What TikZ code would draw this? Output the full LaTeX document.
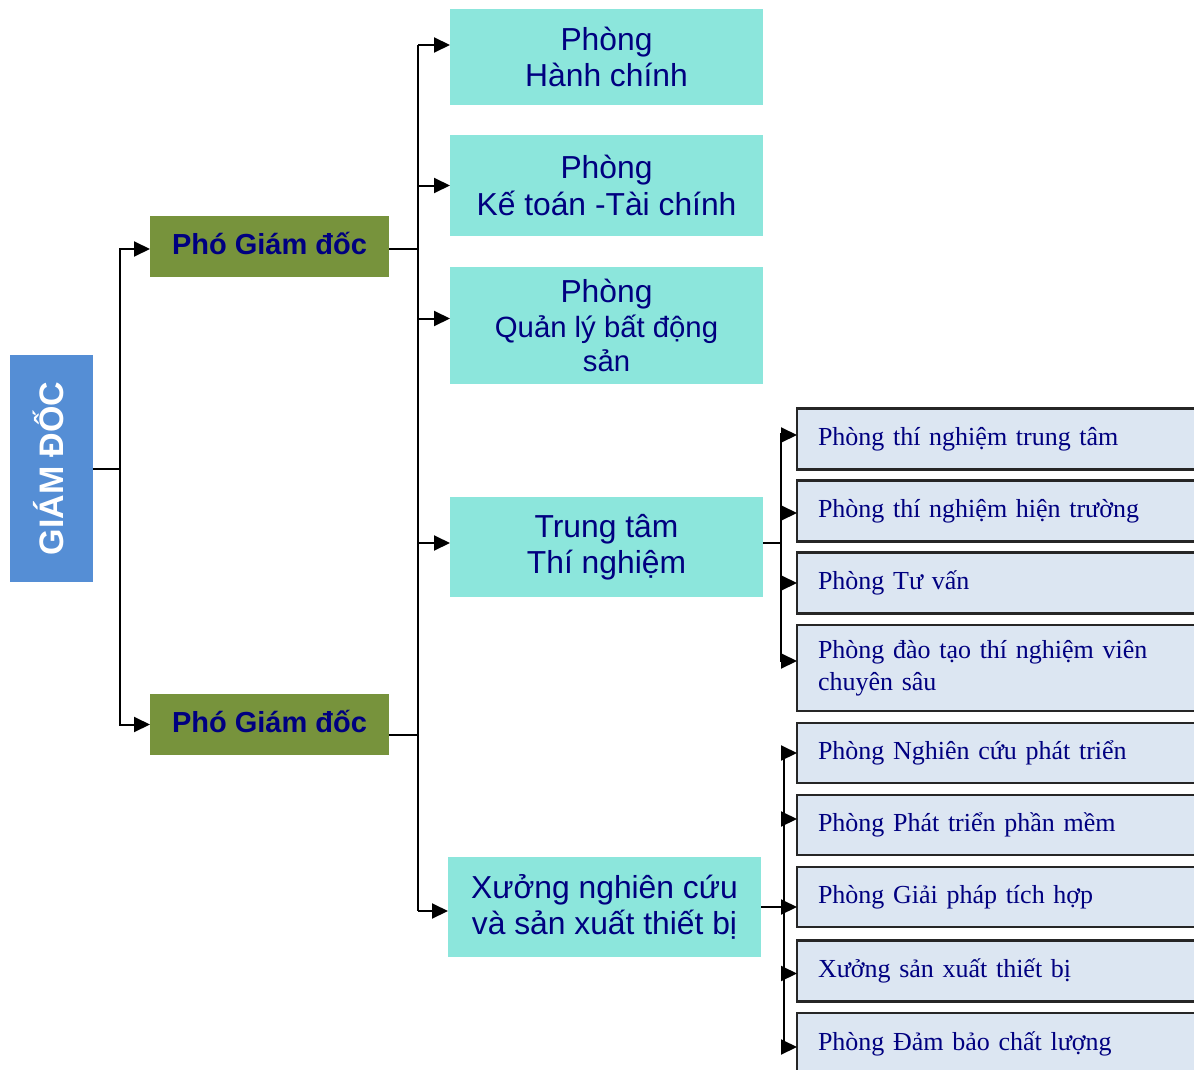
\documentclass[tikz,border=0pt]{standalone}
\usepackage{fontspec}
\setmainfont{Liberation Sans}
\newfontfamily\tnr{Liberation Serif}
\usetikzlibrary{arrows.meta}
\definecolor{gdblue}{HTML}{558ED5}
\definecolor{olivebox}{HTML}{77933C}
\definecolor{cyanbox}{HTML}{8CE6DC}
\definecolor{navytext}{HTML}{000080}
\definecolor{lightbox}{HTML}{DCE6F2}
\definecolor{boxborder}{HTML}{262626}
\begin{document}
\begin{tikzpicture}[x=1pt,y=-1pt,
  ln/.style={line width=2pt, draw=black},
  arr/.style={ln, -{Triangle[length=16pt, width=15pt]}},
  gdbox/.style={fill=gdblue, minimum width=83pt, minimum height=227pt, inner sep=0pt, outer sep=0pt},
  pgdbox/.style={fill=olivebox, minimum width=239pt, minimum height=61pt, text=navytext,
    text depth=6pt, font=\bfseries\fontsize{29}{33}\selectfont, inner sep=0pt, outer sep=0pt, anchor=north west},
  cbox/.style={fill=cyanbox, text=navytext, minimum width=313pt, align=center,
    font=\fontsize{31.8}{36.5}\selectfont, inner sep=0pt, outer sep=0pt, anchor=north west},
  rbox/.style={fill=lightbox, draw=boxborder, line width=2.5pt, text=navytext, minimum width=420pt,
    text width=380pt, align=left, inner xsep=21pt, inner ysep=0pt,
    font=\tnr\fontsize{26}{32}\selectfont, anchor=north west, outer sep=0pt}]
\useasboundingbox (0,0) rectangle (1194,1070);
\clip (0,0) rectangle (1194,1070);

% director
\node[gdbox] (gd) at (51.5,468.5) {};
\node[rotate=90, text=white, inner sep=0pt, text height=24pt, text depth=0pt,
  font=\bfseries\fontsize{34}{40}\selectfont] (gdt) at (gd.center) {GIÁM ĐỐC};

% vice directors
\node[pgdbox] (pgd1) at (150,215.5) {Phó Giám đốc};
\node[pgdbox] (pgd2) at (150,694) {Phó Giám đốc};

% departments
\node[cbox, minimum height=96pt] (hc) at (450,9) {Phòng\\Hành chính};
\node[cbox, minimum height=101pt] (kt) at (450,135) {Phòng\\Kế toán -Tài chính};
\node[cbox, minimum height=117pt, font=\fontsize{31.8}{34.5}\selectfont] (ql) at (450,267)
  {Phòng\\{\fontsize{29.3}{34}\selectfont Quản lý bất động}\\{\fontsize{29.3}{34}\selectfont sản}};
\node[cbox, minimum height=100pt] (tt) at (450,497) {Trung tâm\\Thí nghiệm};
\node[cbox, minimum height=100pt] (xs) at (448,857) {Xưởng nghiên cứu\\và sản xuất thiết bị};

% sub units
\node[rbox, minimum height=61pt] (r1) at (797,408.5) {Phòng thí nghiệm trung tâm};
\node[rbox, minimum height=61pt] (r2) at (797,480.5) {Phòng thí nghiệm hiện trường};
\node[rbox, minimum height=61pt] (r3) at (797,552.5) {Phòng Tư vấn};
\node[rbox, minimum height=86pt] (r4) at (797,625) {Phòng đào tạo thí nghiệm viên\\chuyên sâu};
\node[rbox, minimum height=60pt] (r5) at (797,723) {Phòng Nghiên cứu phát triển};
\node[rbox, minimum height=60pt] (r6) at (797,795) {Phòng Phát triển phần mềm};
\node[rbox, minimum height=60pt] (r7) at (797,867) {Phòng Giải pháp tích hợp};
\node[rbox, minimum height=61pt] (r8) at (797,940.5) {Xưởng sản xuất thiết bị};
\node[rbox, minimum height=61pt] (r9) at (797,1013) {Phòng Đảm bảo chất lượng};

% director -> vice directors
\coordinate (j1) at (120,468.5);
\coordinate (p1w) at ([yshift=-3pt]pgd1.west);
\draw[ln] (gd.east) -- (j1);
\draw[arr] (j1) |- (p1w);
\draw[arr] (j1) |- (pgd2.west);

% vice directors -> departments
\coordinate (t2a) at (418,45);
\coordinate (t2b) at (418,911);
\coordinate (p1e) at ([yshift=-3pt]pgd1.east);
\coordinate (p2e) at ([yshift=-10pt]pgd2.east);
\draw[ln] (t2a) -- (t2b);
\draw[ln] (p1e) -- (p1e -| t2a);
\draw[ln] (p2e) -- (p2e -| t2a);
\coordinate (hcin) at ([yshift=12pt]hc.west);
\coordinate (qlin) at ([yshift=7pt]ql.west);
\coordinate (ttin) at ([yshift=4pt]tt.west);
\coordinate (xsin) at ([yshift=-4pt]xs.west);
\draw[arr] (t2a) -- (hcin);
\draw[arr] (kt.west -| t2a) -- (kt.west);
\draw[arr] (qlin -| t2a) -- (qlin);
\draw[arr] (ttin -| t2a) -- (ttin);
\draw[arr] (t2b) -- (xsin);

% testing centre -> labs
\coordinate (t3a) at (781,433);
\coordinate (t3b) at (781,662);
\coordinate (tte) at ([yshift=4pt]tt.east);
\draw[ln] (tte) -- (tte -| t3a);
\draw[ln] (t3a) -- (t3b);
\coordinate (r1in) at ([yshift=4pt]r1.west);
\coordinate (r2in) at ([yshift=-2pt]r2.west);
\coordinate (r4in) at ([yshift=7pt]r4.west);
\draw[arr] (r1in -| t3a) -- (r1in);
\draw[arr] (r2in -| t3a) -- (r2in);
\draw[arr] (r3.west -| t3a) -- (r3.west);
\draw[arr] (r4in -| t3a) -- (r4in);

% workshop -> units
\coordinate (t4a) at (784,753);
\coordinate (t4b) at (784,1047);
\draw[ln] (xs.east) -- (xs.east -| t4a);
\draw[ln] (t4a) -- (t4b);
\coordinate (r6in) at ([yshift=6pt]r6.west);
\coordinate (r7in) at ([yshift=-10pt]r7.west);
\coordinate (r8in) at ([yshift=-2.5pt]r8.west);
\coordinate (r9in) at ([yshift=-3.5pt]r9.west);
\draw[arr] (r5.west -| t4a) -- (r5.west);
\draw[arr] (r6in -| t4a) -- (r6in);
\draw[arr] (r7in -| t4a) -- (r7in);
\draw[arr] (r8in -| t4a) -- (r8in);
\draw[arr] (r9in -| t4a) -- (r9in);
\end{tikzpicture}
\end{document}
